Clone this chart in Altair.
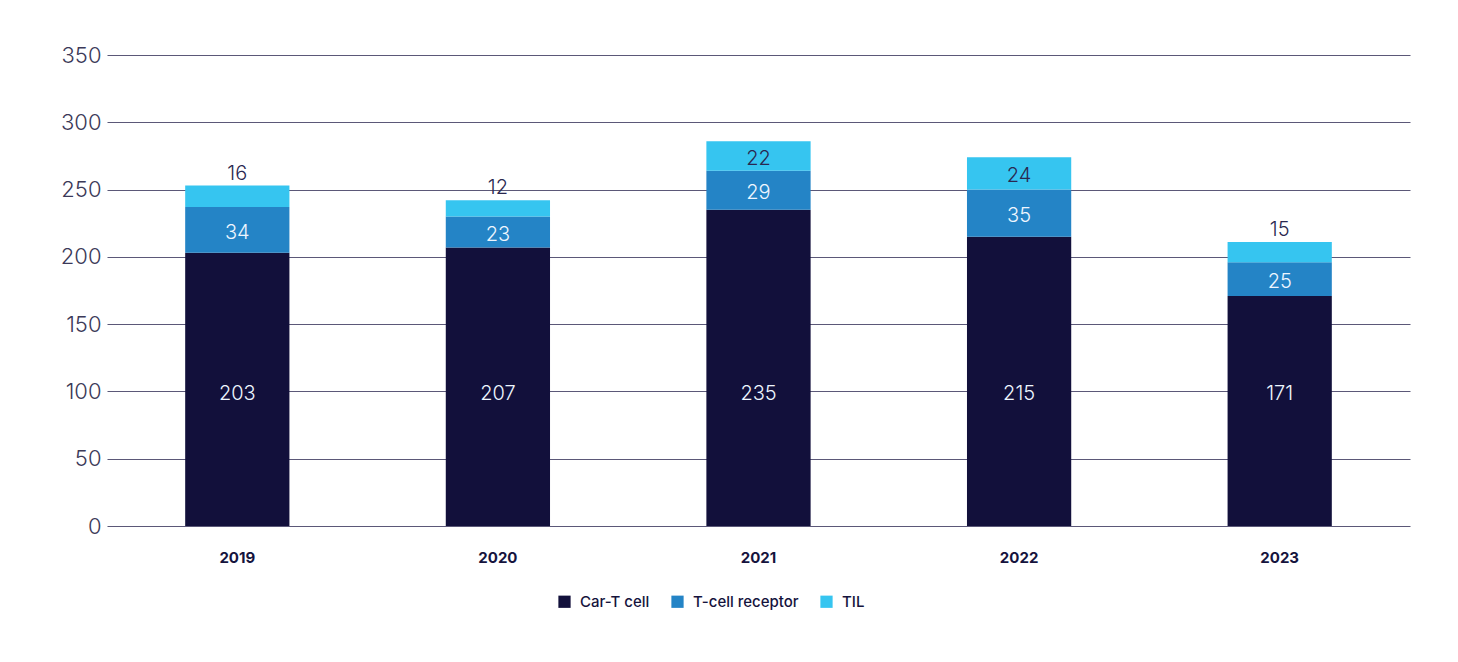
import altair as alt
import pandas as pd

years = ["2019", "2020", "2021", "2022", "2023"]
car_t = [203, 207, 235, 215, 171]
tcr = [34, 23, 29, 35, 25]
til = [16, 12, 22, 24, 15]
series_names = ["Car-T cell", "T-cell receptor", "TIL"]
series_colors = ["#12103b", "#2484c6", "#36c5f0"]

rows = []
for i, y in enumerate(years):
    for order, (name, vals) in enumerate(zip(series_names, [car_t, tcr, til])):
        rows.append({"year": y, "series": name, "value": vals[i], "order": order})
df = pd.DataFrame(rows)

FONT = "Inter"
INK = "#3b3958"

base = alt.Chart(df).transform_stack(
    stack="value", groupby=["year"], as_=["y0", "y1"], sort=[alt.SortField("order")]
).transform_calculate(
    mid="datum.series === 'Car-T cell' ? 100 : (datum.y0 + datum.y1) / 2",
    above="datum.series === 'TIL' && datum.value < 20",
    tcolor="datum.series === 'TIL' ? '#2a2850' : '#eef6ff'",
)

x_enc = alt.X(
    "year:N",
    title=None,
    scale=alt.Scale(paddingInner=0.6, paddingOuter=0.3),
    axis=alt.Axis(
        labelAngle=0, labelFont=FONT, labelFontSize=15, labelFontWeight="bold",
        labelColor="#15133d", labelPadding=24, ticks=False, domain=False, grid=False,
    ),
)

bars = base.mark_bar().encode(
    x=x_enc,
    y=alt.Y(
        "y0:Q",
        title=None,
        scale=alt.Scale(domain=[0, 350]),
        axis=alt.Axis(
            values=[0, 50, 100, 150, 200, 250, 300, 350],
            labelFont=FONT, labelFontSize=22, labelFontWeight=300, labelColor=INK,
            labelPadding=6, ticks=False, domain=False, grid=True,
            gridColor="#5b5878", gridWidth=1.2, gridOpacity=1,
        ),
    ),
    y2="y1:Q",
    color=alt.Color(
        "series:N",
        scale=alt.Scale(domain=series_names, range=series_colors),
        legend=alt.Legend(
            title=None, orient="none", direction="horizontal", legendX=450, legendY=539,
            symbolType="square", symbolSize=150, symbolStrokeWidth=0,
            labelFont=FONT, labelFontSize=15, labelFontWeight=500, labelColor="#15133d",
            columnPadding=20, labelOffset=8,
        ),
    ),
    order=alt.Order("order:Q"),
)

inside = base.transform_filter("!datum.above").mark_text(
    font=FONT, fontSize=20, fontWeight=300, baseline="middle", dy=3
).encode(
    x=alt.X("year:N"),
    y=alt.Y("mid:Q"),
    text=alt.Text("value:Q"),
    color=alt.Color("tcolor:N", scale=None),
)

above = base.transform_filter("datum.above").mark_text(
    font=FONT, fontSize=20, fontWeight=300, baseline="bottom", dy=-2, color="#2a2850"
).encode(
    x=alt.X("year:N"),
    y=alt.Y("y1:Q"),
    text=alt.Text("value:Q"),
)

chart = alt.layer(bars, inside, above).properties(
    width=1303,
    height=471,
    padding={"left": 99, "top": 47, "right": 40, "bottom": 128},
    autosize=alt.AutoSizeParams(type="none"),
    background="white",
).configure_view(stroke=None)

chart.save("out.html", embed_options={"renderer": "svg", "actions": False})
